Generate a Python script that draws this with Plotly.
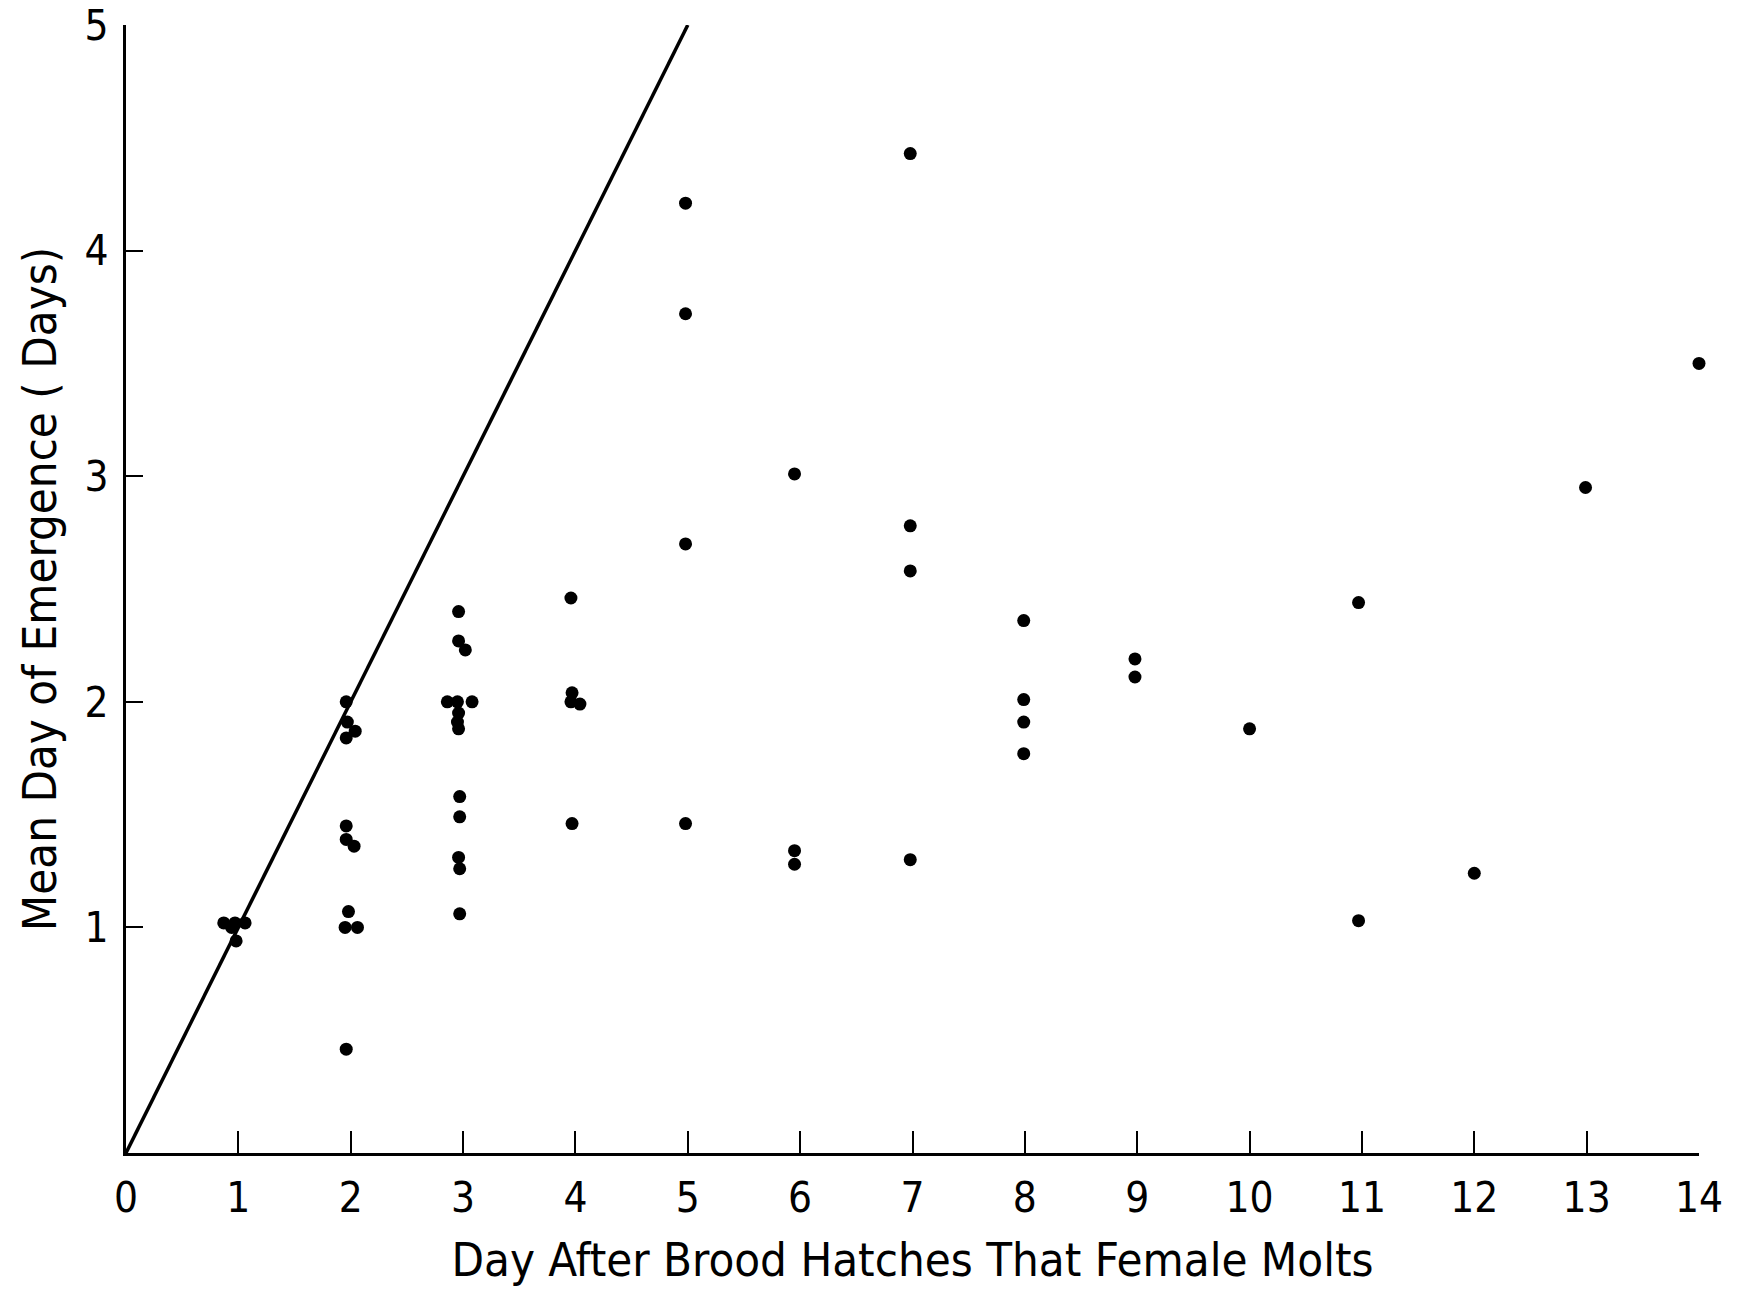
import plotly.graph_objects as go

# Scatter data
day_molts = [0.87, 0.97, 1.06, 0.94, 0.98,
             1.96, 1.97, 2.04, 1.96, 1.96, 1.96, 2.03, 1.98, 1.95, 2.06, 1.96,
             2.96, 2.96, 3.02, 2.86, 2.95, 3.08, 2.96, 2.95, 2.96, 2.97, 2.97, 2.96, 2.97, 2.97,
             3.96, 3.97, 4.04, 3.96, 3.97,
             4.98, 4.98, 4.98, 4.98,
             5.95, 5.95, 5.95,
             6.98, 6.98, 6.98, 6.98,
             7.99, 7.99, 7.99, 7.99,
             8.98, 8.98,
             10.0,
             10.97, 10.97,
             12.0,
             12.99,
             14.0]
mean_emergence = [1.02, 1.02, 1.02, 1.0, 0.94,
                  2.0, 1.91, 1.87, 1.84, 1.45, 1.39, 1.36, 1.07, 1.0, 1.0, 0.46,
                  2.40, 2.27, 2.23, 2.0, 2.0, 2.0, 1.95, 1.91, 1.88, 1.58, 1.49, 1.31, 1.26, 1.06,
                  2.46, 2.04, 1.99, 2.0, 1.46,
                  4.21, 3.72, 2.70, 1.46,
                  3.01, 1.34, 1.28,
                  4.43, 2.78, 2.58, 1.30,
                  2.36, 2.01, 1.91, 1.77,
                  2.19, 2.11,
                  1.88,
                  2.44, 1.03,
                  1.24,
                  2.95,
                  3.50]

# Reference line y = x
line_x = [0, 5]
line_y = [0, 5]

x_ticks = list(range(0, 15))
y_ticks = [1, 2, 3, 4, 5]

font_family = "DejaVu Sans Condensed, Liberation Sans Narrow, DejaVu Sans, sans-serif"

fig = go.Figure()
fig.add_trace(go.Scatter(x=line_x, y=line_y, mode="lines",
                         line=dict(color="black", width=3.5),
                         showlegend=False, hoverinfo="skip"))
fig.add_trace(go.Scatter(x=day_molts, y=mean_emergence, mode="markers",
                         marker=dict(color="black", size=13),
                         cliponaxis=False, showlegend=False))

fig.update_layout(
    width=1750, height=1290,
    margin=dict(l=126, r=51, t=25, b=137),
    paper_bgcolor="white", plot_bgcolor="white",
    font=dict(family=font_family, color="black"),
)
fig.update_xaxes(
    range=[0, 14], tickvals=x_ticks, ticktext=[str(v) for v in x_ticks],
    ticks="inside", ticklen=22, tickwidth=2, tickcolor="black",
    showline=True, linecolor="black", linewidth=3, showgrid=False, zeroline=False,
    tickfont=dict(size=42), ticklabelstandoff=6, automargin=False,
    title=dict(text="Day After Brood Hatches That Female Molts", font=dict(size=47), standoff=22),
)
fig.update_yaxes(
    range=[0, 5], tickvals=y_ticks, ticktext=[str(v) for v in y_ticks],
    ticks="inside", ticklen=17, tickwidth=2, tickcolor="black",
    showline=True, linecolor="black", linewidth=3, showgrid=False, zeroline=False,
    tickfont=dict(size=42), ticklabelstandoff=6, automargin=False,
    title=dict(text="Mean Day of Emergence ( Days)", font=dict(size=47), standoff=14),
)

fig.write_html("out.html")
